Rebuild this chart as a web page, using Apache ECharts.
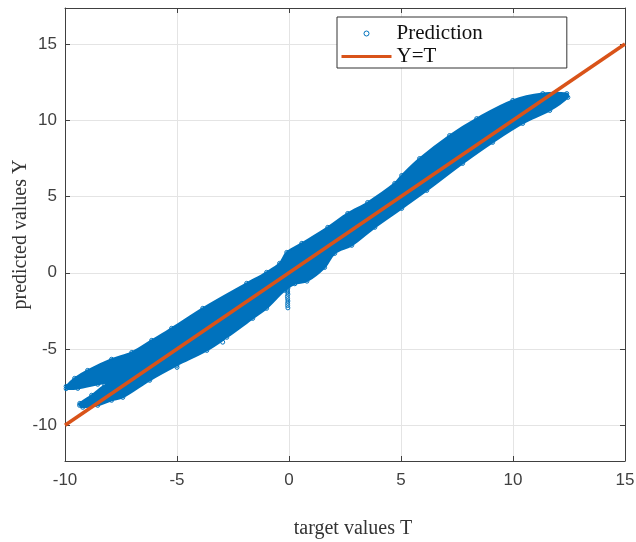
<!DOCTYPE html>
<html><head><meta charset="utf-8">
<style>html,body{margin:0;padding:0;background:#fff}#c{width:636px;height:542px}</style>
<script src="https://cdn.jsdelivr.net/npm/echarts@6/dist/echarts.min.js"></script>
</head><body><div id="c"></div>
<script>
const upperT=[-9.95,-9.57,-8.99,-7.92,-7.02,-6.13,-5.24,-3.85,-1.89,-1.0,-0.42,-0.10,0.57,1.73,2.62,3.51,4.72,5.03,5.83,7.17,8.38,9.99,11.33,12.4];
const upperY=[-7.45,-6.92,-6.40,-5.67,-5.22,-4.43,-3.64,-2.33,-0.69,0.03,0.62,1.34,1.93,2.98,3.89,4.61,5.86,6.38,7.49,9.0,10.11,11.3,11.75,11.75];
const lowerT=[12.45,11.64,10.43,9.09,7.75,6.15,5.03,3.83,2.80,2.04,1.59,0.80,0.26,-0.19,-1.0,-1.62,-2.78,-3.67,-5.01,-6.22,-7.42,-7.92,-8.54,-9.21,-9.35];
const lowerY=[11.5,10.64,9.79,8.55,7.17,5.40,4.22,2.98,1.80,1.27,0.35,-0.55,-0.72,-1.15,-2.33,-2.99,-4.23,-5.09,-6.07,-7.05,-8.17,-8.36,-8.69,-8.82,-8.69];
const notchT=[-9.34,-8.81,-8.23,-7.78,-8.54,-9.43,-9.95];
const notchY=[-8.56,-8.03,-7.38,-7.12,-7.31,-7.58,-7.6];
const spikeT=[-0.06,-0.05,-0.07,-0.06,-0.05,-0.07,-0.06,-0.05,-0.06,-0.06,-0.05,-2.96,-5.0];
const spikeY=[-0.85,-1.0,-1.12,-1.25,-1.4,-1.55,-1.7,-1.85,-2.0,-2.15,-2.3,-4.55,-6.2];
const refLine=[-10,15];
const xTicks=[-10,-5,0,5,10,15];
const yTicks=[-10,-5,0,5,10,15];
const serif='"Liberation Serif","Times New Roman",serif';
const sans='"Liberation Sans",Arial,sans-serif';
const blue='#0072BD', orange='#D95319', axisC='#404040';
const pts=(a,b)=>a.map((v,i)=>[v,b[i]]);
const outline=[...pts(upperT,upperY),...pts(lowerT,lowerY),...pts(notchT,notchY)];
const markers=outline.concat(pts(spikeT,spikeY));
const xBase={min:-10,max:15,interval:5,splitLine:{show:true,lineStyle:{color:'#e4e4e4',width:1}},
  axisLine:{show:true,onZero:false,lineStyle:{color:axisC,width:1}},
  axisTick:{show:true,inside:true,length:5,lineStyle:{color:axisC}}};
const yBase={min:-12.34,max:17.36,splitLine:{show:true,lineStyle:{color:'#e4e4e4',width:1}},
  axisLine:{show:true,onZero:false,lineStyle:{color:axisC,width:1}},
  axisTick:{show:true,inside:true,length:5,customValues:yTicks,lineStyle:{color:axisC}}};
const chart=echarts.init(document.getElementById('c'),null,{renderer:'canvas'});
chart.setOption({
  animation:false,backgroundColor:'#fff',
  grid:{left:65,right:11,top:8,bottom:81,containLabel:false,outerBoundsMode:'none'},
  xAxis:[
    {...xBase,position:'bottom',name:'target values T',nameLocation:'middle',nameGap:58,nameMoveOverlap:false,
     nameTextStyle:{fontFamily:serif,fontSize:20,color:'#333',padding:[0,0,0,16]},
     axisLabel:{fontFamily:sans,fontSize:17,color:axisC,margin:11,customValues:xTicks}},
    {...xBase,position:'top',splitLine:{show:false},axisLabel:{show:false}}
  ],
  yAxis:[
    {...yBase,position:'left',name:'predicted values Y',nameLocation:'middle',nameGap:34,nameMoveOverlap:false,
     nameTextStyle:{fontFamily:serif,fontSize:20,color:'#333'},
     axisLabel:{fontFamily:sans,fontSize:17,color:axisC,margin:8,customValues:yTicks}},
    {...yBase,position:'right',splitLine:{show:false},axisLabel:{show:false}}
  ],
  legend:{
    left:337,top:17,orient:'vertical',padding:[6,84,1,4],itemGap:2,itemWidth:50,itemHeight:20,
    backgroundColor:'#fff',borderColor:'#333',borderWidth:1,borderRadius:0,
    textStyle:{fontFamily:serif,fontSize:21,color:'#111'},
    data:[{name:'Prediction',icon:'path://M0 0L0 0M50 20L50 20M22.5 10A2.5 2.5 0 1 0 27.5 10A2.5 2.5 0 1 0 22.5 10Z',itemStyle:{color:'transparent',borderColor:blue,borderWidth:1}},
          {name:'Y=T',icon:'path://M0 0L0 0M50 20L50 20M0 8.5L50 8.5L50 11.5L0 11.5Z',itemStyle:{color:orange,borderWidth:0}}],
    selectedMode:false
  },
  series:[
    {type:'custom',name:'band',coordinateSystem:'cartesian2d',silent:true,z:2,clip:true,
     data:[0],
     renderItem:(p,api)=>({type:'polygon',shape:{points:outline.map(q=>api.coord(q)),smooth:0.35},style:{fill:blue,stroke:blue,lineWidth:2,lineJoin:'round'}})},
    {type:'scatter',name:'Prediction',data:markers,symbol:'circle',symbolSize:4,z:3,clip:false,
     itemStyle:{color:'transparent',borderColor:blue,borderWidth:1,opacity:1}},
    {type:'line',name:'Y=T',data:pts(refLine,refLine),symbol:'none',showSymbol:false,z:4,clip:false,
     lineStyle:{color:orange,width:3.5},itemStyle:{color:orange}}
  ]
});
</script></body></html>
